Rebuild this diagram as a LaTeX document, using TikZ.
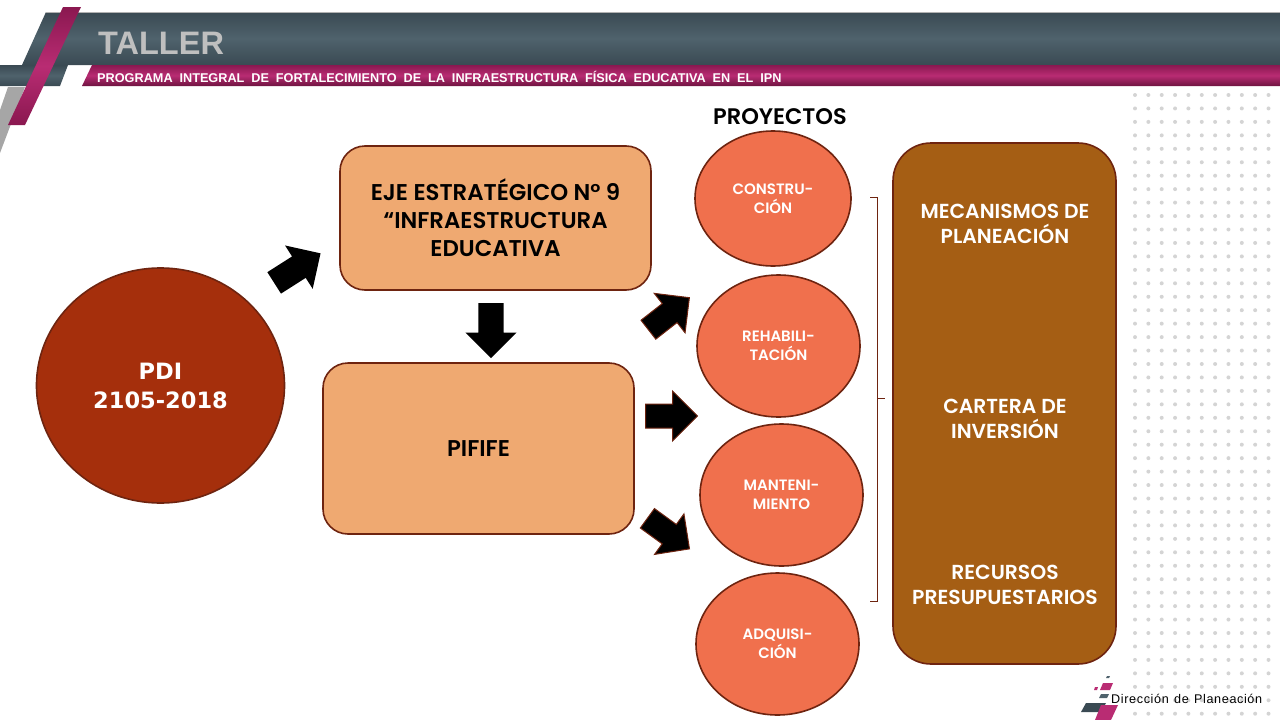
\documentclass[tikz,border=0pt]{standalone}
\usepackage{fontspec}
\setmainfont{Poppins}[BoldFont={Poppins SemiBold}]
\newfontfamily\headfont{Liberation Sans}
\newfontfamily\subfont[WordSpace=1.95]{Liberation Sans}
\newfontfamily\footfont[LetterSpace=5,WordSpace=1.3]{Liberation Sans}
\newfontfamily\pdifont{DejaVu Sans}
\usetikzlibrary{shapes,shapes.arrows,arrows.meta}
\definecolor{lineDark}{HTML}{6E2410}
\definecolor{fillPdi}{HTML}{A52F0C}
\definecolor{fillBox}{HTML}{EFA971}
\definecolor{fillCircle}{HTML}{F0704D}
\definecolor{fillBrown}{HTML}{A55E14}
\definecolor{bandDark}{HTML}{3A4A53}
\definecolor{bandLight}{HTML}{4F626C}
\definecolor{pinkDark}{HTML}{8A1850}
\definecolor{pinkLight}{HTML}{B92C73}

\begin{document}
\begin{tikzpicture}[x=1pt,y=-1pt,
  roundBox/.style={rectangle,draw=lineDark,line width=1.6pt,fill=fillBox,rounded corners=25pt,font=\fontsize{22.8}{28}\selectfont\bfseries,align=center},
  project/.style={ellipse,draw=lineDark,line width=1.6pt,fill=fillCircle,inner sep=0,text=white,font=\fontsize{15}{19}\selectfont\bfseries,align=center},
  blockArrow/.style={single arrow,fill=black,inner xsep=0,inner ysep=12.5pt,minimum height=55pt,single arrow head extend=13pt,single arrow tip angle=90,anchor=tail},
  edgedArrow/.style={blockArrow,draw=lineDark,line width=1pt,inner ysep=11.5pt,minimum height=52pt},
  brownText/.style={text=white,font=\fontsize{20.3}{25}\selectfont\bfseries,align=center}]

\useasboundingbox (0,0) rectangle (1280,720);

% header
\shade[top color=bandDark,bottom color=bandDark,middle color=bandLight] (46,12) -- (1280,12) -- (1280,65) -- (22,65) -- cycle;
\draw[gray!60,line width=1pt] (46,12) -- (1280,12);
\shade[top color=bandDark,bottom color=bandDark,middle color=bandLight] (0,65) -- (68,65) -- (60,86) -- (0,86) -- cycle;
\fill[black!35] (8,87) -- (25,87) -- (0,153) -- (0,110) -- cycle;
\shade[top color=pinkDark,bottom color=pinkDark!80!black,middle color=pinkLight] (92,65) -- (1280,65) -- (1280,86) -- (82,86) -- cycle;
\shade[top color=pinkDark,bottom color=pinkDark,middle color=pinkLight] (63,7) -- (81,7) -- (25,125) -- (8,125) -- cycle;

% dots
\foreach \i in {0,...,10}
  \foreach \j in {0,...,46}
    \fill[black!17] (1135+13.35*\i,95+13.45*\j) circle (2pt);

\node[anchor=west,inner sep=0,text=black!25,font=\headfont\fontsize{32.5}{32}\selectfont\bfseries] (titleMain) at (98,43) {TALLER};
\node[anchor=west,inner sep=0,text=white,font=\subfont\fontsize{12.7}{12}\selectfont\bfseries] (titleSub) at (97,76.5) {PROGRAMA INTEGRAL DE FORTALECIMIENTO DE LA INFRAESTRUCTURA FÍSICA EDUCATIVA EN EL IPN};

% main shapes
\node[ellipse,draw=lineDark,line width=1.6pt,fill=fillPdi,inner sep=0,minimum width=248pt,minimum height=235pt,text=white,align=center,font=\pdifont\fontsize{22.5}{29}\selectfont\bfseries] (nodePdi) at (160.5,385.5) {PDI\\2105-2018};
\node[roundBox,minimum width=311pt,minimum height=144pt] (boxEje) at (495.5,218) {EJE ESTRATÉGICO N° 9\\“INFRAESTRUCTURA\\EDUCATIVA};
\node[roundBox,minimum width=311pt,minimum height=171pt] (boxPifife) at (478.5,448.5) {PIFIFE};

\node[project,minimum width=156pt,minimum height=135pt] (projConstruccion) at (773,198.5) {CONSTRU-\\CIÓN};
\node[project,minimum width=163pt,minimum height=142pt] (projRehabilitacion) at (778.5,346) {REHABILI-\\TACIÓN};
\node[project,minimum width=163pt,minimum height=142pt] (projMantenimiento) at (781.5,495) {MANTENI-\\MIENTO};
\node[project,minimum width=163pt,minimum height=142pt] (projAdquisicion) at (777.5,644) {ADQUISI-\\CIÓN};

\node[font=\fontsize{22.5}{22}\selectfont\bfseries,inner sep=0] (labelProyectos) at (780,117) {PROYECTOS};

\node[rectangle,draw=lineDark,line width=1.6pt,fill=fillBrown,rounded corners=38pt,minimum width=223pt,minimum height=521pt] (boxBrown) at (1004.5,403.5) {};
\node[brownText] (textMecanismos) at (1005,224) {MECANISMOS DE\\PLANEACIÓN};
\node[brownText] (textCartera) at (1005,418.5) {CARTERA DE\\INVERSIÓN};
\node[brownText] (textRecursos) at (1005,585) {RECURSOS\\PRESUPUESTARIOS};

% block arrows
\node[blockArrow,rotate=32.5] (arrowEje) at (274,283) {};
\node[blockArrow,rotate=-90] (arrowPifife) at (491,303) {};
\node[edgedArrow,rotate=38] (arrowUp) at (648,330) {};
\node[edgedArrow] (arrowMid) at (645,416) {};
\node[edgedArrow,rotate=-36] (arrowDown) at (647,518) {};

% brace
\draw[lineDark,line width=0.6pt] (870,197) -- (877,197) -- (877,601) -- (870,601) (877,398.5) -- (885,398.5);

% footer logo
\fill[bandDark] (1086,703) -- (1106,703) -- (1101,712) -- (1081,712) -- cycle;
\fill[pinkLight] (1101,705) -- (1118,705) -- (1111,720) -- (1095,720) -- cycle;
\fill[bandLight] (1101,694) -- (1109,694) -- (1107,698) -- (1099,698) -- cycle;
\fill[pinkLight] (1103,683) -- (1113,683) -- (1110,690) -- (1100,690) -- cycle;
\fill[pinkLight] (1095,687) -- (1098,687) -- (1097,690) -- (1094,690) -- cycle;
\fill[bandLight] (1107,676) -- (1110,676) -- (1109,678) -- (1106,678) -- cycle;
\node[anchor=west,inner sep=0,font=\footfont\fontsize{12.6}{12}\selectfont] (labelDireccion) at (1111,699) {Dirección de Planeación};
\end{tikzpicture}
\end{document}
